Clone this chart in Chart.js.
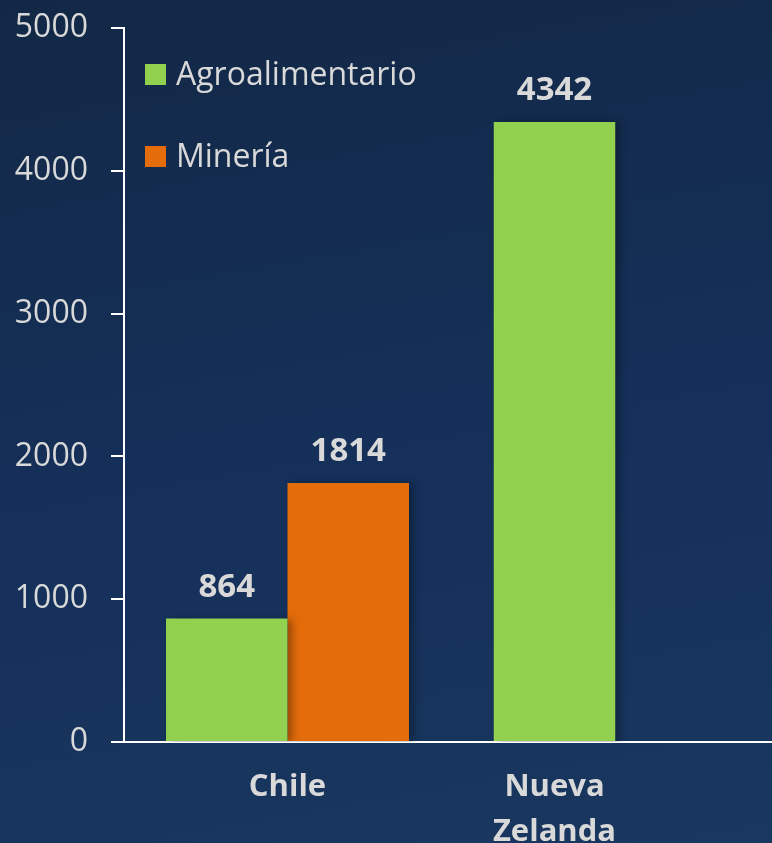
<!DOCTYPE html>
<html>
<head>
<meta charset="utf-8">
<script src="https://cdn.jsdelivr.net/npm/chart.js@4"></script>
<style>
  html, body { margin: 0; padding: 0; overflow: hidden; }
  body { width: 772px; height: 843px; background: linear-gradient(170deg, #122846 0%, #15305a 55%, #19375f 100%); }
  #wrap { position: relative; width: 772px; height: 843px; }
</style>
</head>
<body>
<div id="wrap"><canvas id="chart"></canvas></div>
<script>
// データ
const categories = ['Chile', ['Nueva', 'Zelanda']];
const categoryPos = [1, 2];
const agroValues = [864, 4342];
const mineriaValues = [1814, null];
const seriesNames = ['Agroalimentario', 'Minería'];
const yTicks = [0, 1000, 2000, 3000, 4000, 5000];

const GREEN = '#92d050';
const ORANGE = '#e46c0a';
const TEXT = '#d9d9d9';
const FONT = "'Open Sans', 'DejaVu Sans', sans-serif";

// 棒の影 + 値ラベル
const barExtras = {
    id: 'barExtras',
    beforeDatasetsDraw(chart) {
        const ctx = chart.ctx;
        ctx.save();
        ctx.shadowColor = 'rgba(0, 0, 0, 0.35)';
        ctx.shadowBlur = 8;
        ctx.shadowOffsetX = 4;
        ctx.shadowOffsetY = 1;
    },
    afterDatasetsDraw(chart) {
        const ctx = chart.ctx;
        ctx.restore();
        ctx.save();
        ctx.font = 'bold 33px ' + FONT;
        ctx.fillStyle = TEXT;
        ctx.textAlign = 'center';
        ctx.textBaseline = 'middle';
        chart.data.datasets.forEach((ds, i) => {
            chart.getDatasetMeta(i).data.forEach((el, j) => {
                const v = ds.data[j].y;
                if (v === null) return;
                ctx.fillText(String(v), el.x, el.y - 31);
            });
        });
        ctx.restore();
    }
};

// 凡例（グラフ内左上）
const insideLegend = {
    id: 'insideLegend',
    afterDraw(chart) {
        const ctx = chart.ctx;
        ctx.save();
        ctx.font = '32px ' + FONT;
        ctx.textBaseline = 'middle';
        chart.data.datasets.forEach((ds, i) => {
            const cy = 75 + i * 82;
            ctx.fillStyle = ds.backgroundColor;
            ctx.fillRect(145, cy - 11, 21, 21);
            ctx.fillStyle = TEXT;
            ctx.fillText(ds.label, 176, cy + 1);
        });
        ctx.restore();
    }
};

const ctx = document.getElementById('chart').getContext('2d');
new Chart(ctx, {
    type: 'bar',
    data: {
        datasets: [
            {
                label: seriesNames[0],
                data: categoryPos.map((x, i) => ({ x: x, y: agroValues[i] })),
                backgroundColor: GREEN
            },
            {
                label: seriesNames[1],
                data: categoryPos.map((x, i) => ({ x: x, y: mineriaValues[i] })),
                backgroundColor: ORANGE
            }
        ]
    },
    options: {
        responsive: true,
        maintainAspectRatio: false,
        animation: false,
        layout: { padding: { top: 28, right: 0, bottom: 0, left: 0 } },
        datasets: {
            bar: {
                skipNull: true,
                barPercentage: 1,
                categoryPercentage: 0.91,
                maxBarThickness: 121.5
            }
        },
        plugins: {
            legend: { display: false },
            tooltip: { enabled: false }
        },
        scales: {
            x: {
                type: 'linear',
                offset: false,
                min: 0.3876,
                max: 2.8146,
                afterBuildTicks(scale) {
                    scale.ticks = categoryPos.map(v => ({ value: v }));
                },
                afterFit(scale) {
                    scale.height = 101;
                    scale.paddingLeft = 0;
                    scale.paddingRight = 0;
                },
                grid: { display: false, drawTicks: false },
                border: { color: '#ffffff', width: 2 },
                ticks: {
                    color: TEXT,
                    padding: 23,
                    maxRotation: 0,
                    autoSkip: false,
                    font: { family: FONT, size: 31, weight: 'bold', lineHeight: 1.45 },
                    callback(value) {
                        const i = categoryPos.indexOf(value);
                        return i >= 0 ? categories[i] : '';
                    }
                }
            },
            y: {
                min: 0,
                max: 5000,
                afterBuildTicks(scale) {
                    scale.ticks = yTicks.map(v => ({ value: v }));
                },
                afterFit(scale) {
                    scale.width = 124;
                    scale.paddingTop = 0;
                    scale.paddingBottom = 0;
                },
                grid: {
                    drawOnChartArea: false,
                    drawTicks: true,
                    tickLength: 13,
                    color: '#ffffff',
                    lineWidth: 2
                },
                border: { color: '#ffffff', width: 2 },
                ticks: {
                    color: TEXT,
                    padding: 23,
                    font: { family: FONT, size: 32 },
                    callback: (value) => String(value)
                }
            }
        }
    },
    plugins: [barExtras, insideLegend]
});
</script>
</body>
</html>
